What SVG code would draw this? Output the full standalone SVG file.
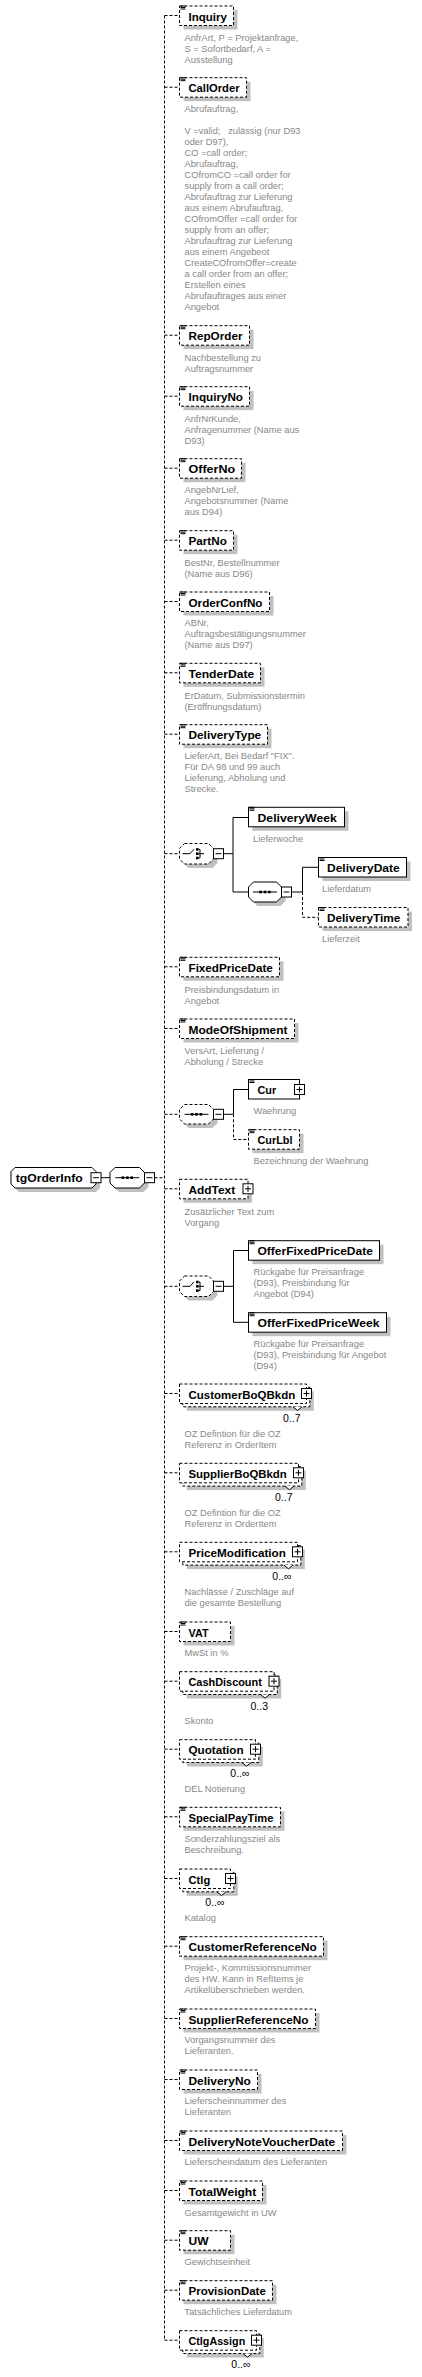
<svg xmlns="http://www.w3.org/2000/svg" xmlns:xlink="http://www.w3.org/1999/xlink" width="422" height="2377" viewBox="0 0 422 2377">
<style>
.sh{fill:#c0c0c0}
.b{fill:#fff;stroke:#000;stroke-width:1}
.o{stroke-dasharray:3 2}
.l{fill:none;stroke:#000;stroke-width:1}
.n{font-family:"Liberation Sans",Arial,sans-serif;font-weight:bold;font-size:11.7px;fill:#000}
.d{font-family:"Liberation Sans",Arial,sans-serif;font-size:9.3px;fill:#888}
.c{font-family:"Liberation Sans",Arial,sans-serif;font-size:10.5px;fill:#000}
</style>
<defs>
<g id="ic" class="l" stroke-width="0.9"><path d="M0 0.5H5M0 2H5M0 3.5H5"/></g>
<g id="minus"><rect class="b" x="0" y="0" width="10" height="10"/><path class="l" d="M2 5H8"/></g>
<g id="plus"><rect class="b" x="0" y="0" width="10" height="10"/><path class="l" d="M2 5H8M5 2V8"/></g>
<g id="chc"><path class="l" d="M-14 0H-6.5L-2.5 -4.5"/><path class="l" d="M2 -4.3H3.5V4.3H2M2 0H7.5"/><rect x="-0.5" y="-5.6" width="2.6" height="2.6"/><rect x="-0.5" y="-1.3" width="2.6" height="2.6"/><rect x="-0.5" y="3" width="2.6" height="2.6"/></g>
<g id="sq"><path class="l" d="M-12 0H12"/><rect x="-5.7" y="-1.3" width="2.6" height="2.6"/><rect x="-1.3" y="-1.3" width="2.6" height="2.6"/><rect x="3.1" y="-1.3" width="2.6" height="2.6"/></g>
</defs>

<g id="connectors">
<path class="l o" d="M164.5 15.5V2340.2"/>
<path class="l o" d="M164.5 15.5H179.5M164.5 87.2H179.5M164.5 335.2H179.5M164.5 396.2H179.5M164.5 468.2H179.5M164.5 540.2H179.5M164.5 601.5H179.5M164.5 672.8H179.5M164.5 734.2H179.5M164.5 853.7H179.5M164.5 966.8H179.5M164.5 1028.5H179.5M164.5 1114.3H179.5M164.5 1188.8H179.5M164.5 1286.3H179.5M164.5 1393.5H179.5M164.5 1472.8H179.5M164.5 1551.8H179.5M164.5 1631.5H179.5M164.5 1681.2H179.5M164.5 1749.2H179.5M164.5 1816.8H179.5M164.5 1878.5H179.5M164.5 1946.2H179.5M164.5 2018.5H179.5M164.5 2079.5H179.5M164.5 2140.5H179.5M164.5 2190.5H179.5M164.5 2240.2H179.5M164.5 2290.2H179.5M164.5 2340.2H179.5"/>
<path class="l o" d="M154.5 1177.7H164.5"/>
<path class="l" d="M101 1177.7H110"/>
<path class="l" d="M223.5 853.7H233M233 817.5V892M233 817.5H248.5M233 892H248.5"/>
<path class="l" d="M291.5 892H302.5M302.5 867.3V892M302.5 867.3H318.5"/>
<path class="l o" d="M302.5 892V917.3H318.5"/>
<path class="l" d="M223.5 1114.3H233.5M233.5 1089.5V1114.3M233.5 1089.5H248.5"/>
<path class="l o" d="M233.5 1114.3V1139.5H248.5"/>
<path class="l" d="M223.5 1286.3H233.5M233.5 1250.5V1322.3M233.5 1250.5H248.5M233.5 1322.3H248.5"/>
</g>

<g id="n-tgOrderInfo">
<path class="sh" transform="translate(4,4)" d="M15 1167.5H92L96 1171.5V1184L92 1188H15L11 1184V1171.5Z"/>
<path class="b" d="M15 1167.5H92L96 1171.5V1184L92 1188H15L11 1184V1171.5Z"/>
<text class="n" x="15.7" y="1182" textLength="67" lengthAdjust="spacingAndGlyphs">tgOrderInfo</text>
<use href="#minus" x="91" y="1172.7"/>
</g>
<g id="n-sequence-root">
<path class="sh" transform="translate(4,4)" d="M115 1167.5H139.5L144.5 1172.5V1183L139.5 1188H115L110 1183V1172.5Z"/>
<path class="b" d="M115 1167.5H139.5L144.5 1172.5V1183L139.5 1188H115L110 1183V1172.5Z"/>
<use href="#sq" x="127.3" y="1177.7"/>
<use href="#minus" x="144.5" y="1172.7"/>
</g>

<g id="n-Inquiry"><rect class="sh" x="183.5" y="10" width="54" height="19.5"/><rect class="b o" x="179.5" y="6" width="54" height="19.5"/><use href="#ic" x="180.5" y="5.5"/><text class="n" x="188.5" y="20.5" textLength="38.3" lengthAdjust="spacingAndGlyphs">Inquiry</text><text class="d" x="184.5" y="40.7">AnfrArt, P = Projektanfrage,<tspan x="184.5" dy="11">S = Sofortbedarf, A =</tspan><tspan x="184.5" dy="11">Ausstellung</tspan></text></g>

<g id="n-CallOrder"><rect class="sh" x="183.5" y="81.7" width="67" height="19.5"/><rect class="b o" x="179.5" y="77.7" width="67" height="19.5"/><use href="#ic" x="180.5" y="77.2"/><text class="n" x="188.5" y="92.2" textLength="51" lengthAdjust="spacingAndGlyphs">CallOrder</text><text class="d" x="184.5" y="112.3">Abrufauftrag,<tspan x="184.5" dy="22" style="white-space:pre">V =valid;   zulässig (nur D93</tspan><tspan x="184.5" dy="11">oder D97),</tspan><tspan x="184.5" dy="11">CO =call order;</tspan><tspan x="184.5" dy="11">Abrufauftrag,</tspan><tspan x="184.5" dy="11">COfromCO =call order for</tspan><tspan x="184.5" dy="11">supply from a call order;</tspan><tspan x="184.5" dy="11">Abrufauftrag zur Lieferung</tspan><tspan x="184.5" dy="11">aus einem Abrufauftrag,</tspan><tspan x="184.5" dy="11">COfromOffer =call order for</tspan><tspan x="184.5" dy="11">supply from an offer;</tspan><tspan x="184.5" dy="11">Abrufauftrag zur Lieferung</tspan><tspan x="184.5" dy="11">aus einem Angebeot</tspan><tspan x="184.5" dy="11">CreateCOfromOffer=create</tspan><tspan x="184.5" dy="11">a call order from an offer;</tspan><tspan x="184.5" dy="11">Erstellen eines</tspan><tspan x="184.5" dy="11">Abrufauftrages aus einer</tspan><tspan x="184.5" dy="11">Angebot</tspan></text></g>

<g id="n-RepOrder"><rect class="sh" x="183.5" y="329.7" width="70" height="19.5"/><rect class="b o" x="179.5" y="325.7" width="70" height="19.5"/><use href="#ic" x="180.5" y="325.2"/><text class="n" x="188.5" y="340.2" textLength="54" lengthAdjust="spacingAndGlyphs">RepOrder</text><text class="d" x="184.5" y="360.7">Nachbestellung zu<tspan x="184.5" dy="11">Auftragsnummer</tspan></text></g>

<g id="n-InquiryNo"><rect class="sh" x="183.5" y="390.7" width="70" height="19.5"/><rect class="b o" x="179.5" y="386.7" width="70" height="19.5"/><use href="#ic" x="180.5" y="386.2"/><text class="n" x="188.5" y="401.2" textLength="54.5" lengthAdjust="spacingAndGlyphs">InquiryNo</text><text class="d" x="184.5" y="421.7">AnfrNrKunde,<tspan x="184.5" dy="11">Anfragenummer (Name aus</tspan><tspan x="184.5" dy="11">D93)</tspan></text></g>

<g id="n-OfferNo"><rect class="sh" x="183.5" y="462.7" width="62" height="19.5"/><rect class="b o" x="179.5" y="458.7" width="62" height="19.5"/><use href="#ic" x="180.5" y="458.2"/><text class="n" x="188.5" y="473.2" textLength="46.7" lengthAdjust="spacingAndGlyphs">OfferNo</text><text class="d" x="184.5" y="493.3">AngebNrLief,<tspan x="184.5" dy="11">Angebotsnummer (Name</tspan><tspan x="184.5" dy="11">aus D94)</tspan></text></g>

<g id="n-PartNo"><rect class="sh" x="183.5" y="534.7" width="54" height="19.5"/><rect class="b o" x="179.5" y="530.7" width="54" height="19.5"/><use href="#ic" x="180.5" y="530.2"/><text class="n" x="188.5" y="545.2" textLength="38.3" lengthAdjust="spacingAndGlyphs">PartNo</text><text class="d" x="184.5" y="565.7">BestNr, Bestellnummer<tspan x="184.5" dy="11">(Name aus D96)</tspan></text></g>

<g id="n-OrderConfNo"><rect class="sh" x="183.5" y="596" width="90" height="19.5"/><rect class="b o" x="179.5" y="592" width="90" height="19.5"/><use href="#ic" x="180.5" y="591.5"/><text class="n" x="188.5" y="606.5" textLength="74" lengthAdjust="spacingAndGlyphs">OrderConfNo</text><text class="d" x="184.5" y="626.3">ABNr,<tspan x="184.5" dy="11">Auftragsbestätigungsnummer</tspan><tspan x="184.5" dy="11">(Name aus D97)</tspan></text></g>

<g id="n-TenderDate"><rect class="sh" x="183.5" y="667.3" width="81" height="19.5"/><rect class="b o" x="179.5" y="663.3" width="81" height="19.5"/><use href="#ic" x="180.5" y="662.8"/><text class="n" x="188.5" y="677.8" textLength="65.7" lengthAdjust="spacingAndGlyphs">TenderDate</text><text class="d" x="184.5" y="698.7">ErDatum, Submissionstermin<tspan x="184.5" dy="11">(Eröffnungsdatum)</tspan></text></g>

<g id="n-DeliveryType"><rect class="sh" x="183.5" y="728.7" width="88" height="19.5"/><rect class="b o" x="179.5" y="724.7" width="88" height="19.5"/><use href="#ic" x="180.5" y="724.2"/><text class="n" x="188.5" y="739.2" textLength="72.7" lengthAdjust="spacingAndGlyphs">DeliveryType</text><text class="d" x="184.5" y="759.3">LieferArt, Bei Bedarf "FIX".<tspan x="184.5" dy="11">Für DA 98 und 99 auch</tspan><tspan x="184.5" dy="11">Lieferung, Abholung und</tspan><tspan x="184.5" dy="11">Strecke.</tspan></text></g>

<g id="n-choice-1">
<path class="sh" transform="translate(4,4)" d="M184.5 843.5H208.5L213.5 848.5V859L208.5 864H184.5L179.5 859V848.5Z"/>
<path class="b o" d="M184.5 843.5H208.5L213.5 848.5V859L208.5 864H184.5L179.5 859V848.5Z"/>
<use href="#chc" x="196.5" y="853.7"/>
<use href="#minus" x="213.5" y="848.7"/>
</g>

<g id="n-DeliveryWeek"><rect class="sh" x="252.5" y="811.3" width="96" height="19.5"/><rect class="b" x="248.5" y="807.3" width="96" height="19.5"/><use href="#ic" x="249.5" y="806.8"/><text class="n" x="257.5" y="821.8" textLength="79.3" lengthAdjust="spacingAndGlyphs">DeliveryWeek</text><text class="d" x="253" y="842.3">Lieferwoche</text></g>

<g id="n-sequence-1">
<path class="sh" transform="translate(4,4)" d="M253.5 882H276.5L281.5 887V897L276.5 902H253.5L248.5 897V887Z"/>
<path class="b" d="M253.5 882H276.5L281.5 887V897L276.5 902H253.5L248.5 897V887Z"/>
<use href="#sq" x="265" y="892"/>
<use href="#minus" x="281.5" y="887"/>
</g>

<g id="n-DeliveryDate"><rect class="sh" x="322.5" y="861.5" width="88" height="19.5"/><rect class="b" x="318.5" y="857.5" width="88" height="19.5"/><use href="#ic" x="319.5" y="857"/><text class="n" x="327" y="872" textLength="72.7" lengthAdjust="spacingAndGlyphs">DeliveryDate</text><text class="d" x="322" y="892.3">Lieferdatum</text></g>

<g id="n-DeliveryTime"><rect class="sh" x="322.5" y="911.5" width="89.5" height="19.5"/><rect class="b o" x="318.5" y="907.5" width="89.5" height="19.5"/><use href="#ic" x="319.5" y="907"/><text class="n" x="327" y="922" textLength="73.3" lengthAdjust="spacingAndGlyphs">DeliveryTime</text><text class="d" x="322" y="942.3">Lieferzeit</text></g>

<g id="n-FixedPriceDate"><rect class="sh" x="183.5" y="961.3" width="100" height="19.5"/><rect class="b o" x="179.5" y="957.3" width="100" height="19.5"/><use href="#ic" x="180.5" y="956.8"/><text class="n" x="188.5" y="971.8" textLength="84.3" lengthAdjust="spacingAndGlyphs">FixedPriceDate</text><text class="d" x="184.5" y="993.3">Preisbindungsdatum in<tspan x="184.5" dy="11">Angebot</tspan></text></g>

<g id="n-ModeOfShipment"><rect class="sh" x="183.5" y="1023" width="115" height="19.5"/><rect class="b o" x="179.5" y="1019" width="115" height="19.5"/><use href="#ic" x="180.5" y="1018.5"/><text class="n" x="188.5" y="1033.5" textLength="99" lengthAdjust="spacingAndGlyphs">ModeOfShipment</text><text class="d" x="184.5" y="1054">VersArt, Lieferung /<tspan x="184.5" dy="11">Abholung / Strecke</tspan></text></g>

<g id="n-sequence-2">
<path class="sh" transform="translate(4,4)" d="M184.5 1104.5H208.5L213.5 1109.5V1119L208.5 1124H184.5L179.5 1119V1109.5Z"/>
<path class="b o" d="M184.5 1104.5H208.5L213.5 1109.5V1119L208.5 1124H184.5L179.5 1119V1109.5Z"/>
<use href="#sq" x="196.5" y="1114.3"/>
<use href="#minus" x="213.5" y="1109.3"/>
</g>

<g id="n-Cur"><rect class="b" x="248.5" y="1079.5" width="51" height="19.5"/><use href="#ic" x="249.5" y="1079"/><text class="n" x="257.5" y="1094" textLength="18.7" lengthAdjust="spacingAndGlyphs">Cur</text><use href="#plus" x="294.5" y="1084.5"/><text class="d" x="253.5" y="1114">Waehrung</text></g>

<g id="n-CurLbl"><rect class="sh" x="252.5" y="1133.7" width="51" height="19.5"/><rect class="b o" x="248.5" y="1129.7" width="51" height="19.5"/><use href="#ic" x="249.5" y="1129.2"/><text class="n" x="257.5" y="1144.2" textLength="35" lengthAdjust="spacingAndGlyphs">CurLbl</text><text class="d" x="253.5" y="1164.3">Bezeichnung der Waehrung</text></g>

<g id="n-AddText"><rect class="sh" x="183.5" y="1183.3" width="68.5" height="19.5"/><rect class="b o" x="179.5" y="1179.3" width="68.5" height="19.5"/><text class="n" x="188.5" y="1193.8" textLength="46.7" lengthAdjust="spacingAndGlyphs">AddText</text><use href="#plus" x="243" y="1183.8"/><text class="d" x="184.5" y="1214.7">Zusätzlicher Text zum<tspan x="184.5" dy="11">Vorgang</tspan></text></g>

<g id="n-choice-2">
<path class="sh" transform="translate(4,4)" d="M184.5 1276H208.5L213.5 1281V1291.5L208.5 1296.5H184.5L179.5 1291.5V1281Z"/>
<path class="b o" d="M184.5 1276H208.5L213.5 1281V1291.5L208.5 1296.5H184.5L179.5 1291.5V1281Z"/>
<use href="#chc" x="196.5" y="1286.3"/>
<use href="#minus" x="213.5" y="1281.3"/>
</g>

<g id="n-OfferFixedPriceDate"><rect class="sh" x="252.5" y="1244.7" width="131" height="19.5"/><rect class="b" x="248.5" y="1240.7" width="131" height="19.5"/><use href="#ic" x="249.5" y="1240.2"/><text class="n" x="257.5" y="1255.2" textLength="115.3" lengthAdjust="spacingAndGlyphs">OfferFixedPriceDate</text><text class="d" x="253.5" y="1275.3">Rückgabe für Preisanfrage<tspan x="253.5" dy="11">(D93), Preisbindung für</tspan><tspan x="253.5" dy="11">Angebot (D94)</tspan></text></g>

<g id="n-OfferFixedPriceWeek"><rect class="sh" x="252.5" y="1316.7" width="138" height="19.5"/><rect class="b" x="248.5" y="1312.7" width="138" height="19.5"/><use href="#ic" x="249.5" y="1312.2"/><text class="n" x="257.5" y="1327.2" textLength="122" lengthAdjust="spacingAndGlyphs">OfferFixedPriceWeek</text><text class="d" x="253.5" y="1347.3">Rückgabe für Preisanfrage<tspan x="253.5" dy="11">(D93), Preisbindung für Angebot</tspan><tspan x="253.5" dy="11">(D94)</tspan></text></g>

<g id="n-CustomerBoQBkdn"><rect class="sh" x="186.8" y="1391.3" width="127" height="19.5"/><rect class="b o" x="182.8" y="1387.3" width="127" height="19.5"/><rect class="b o" x="179.5" y="1384" width="127" height="19.5"/><text class="n" x="188.5" y="1398.5" textLength="106.7" lengthAdjust="spacingAndGlyphs">CustomerBoQBkdn</text><use href="#plus" x="301.5" y="1388.5"/><path class="b" d="M293 1406.8L297.5 1410.5L302 1406.8"/><text class="c" x="300.5" y="1421.5" text-anchor="end">0..7</text><text class="d" x="184.5" y="1437.3">OZ Defintion für die OZ<tspan x="184.5" dy="11">Referenz in OrderItem</tspan></text></g>

<g id="n-SupplierBoQBkdn"><rect class="sh" x="186.8" y="1470.6" width="119" height="19.5"/><rect class="b o" x="182.8" y="1466.6" width="119" height="19.5"/><rect class="b o" x="179.5" y="1463.3" width="119" height="19.5"/><text class="n" x="188.5" y="1477.8" textLength="98.3" lengthAdjust="spacingAndGlyphs">SupplierBoQBkdn</text><use href="#plus" x="293.5" y="1467.8"/><path class="b" d="M285 1486.1L289.5 1489.8L294 1486.1"/><text class="c" x="292.5" y="1500.8" text-anchor="end">0..7</text><text class="d" x="184.5" y="1516.3">OZ Defintion für die OZ<tspan x="184.5" dy="11">Referenz in OrderItem</tspan></text></g>

<g id="n-PriceModification"><rect class="sh" x="186.8" y="1549.6" width="118" height="19.5"/><rect class="b o" x="182.8" y="1545.6" width="118" height="19.5"/><rect class="b o" x="179.5" y="1542.3" width="118" height="19.5"/><text class="n" x="188.5" y="1556.8" textLength="97.3" lengthAdjust="spacingAndGlyphs">PriceModification</text><use href="#plus" x="292.5" y="1546.8"/><path class="b" d="M284 1565.1L288.5 1568.8L293 1565.1"/><text class="c" x="291.5" y="1579.8" text-anchor="end">0..∞</text><text class="d" x="184.5" y="1595.3">Nachlässe / Zuschläge auf<tspan x="184.5" dy="11">die gesamte Bestellung</tspan></text></g>

<g id="n-VAT"><rect class="sh" x="183.5" y="1626" width="51" height="19.5"/><rect class="b o" x="179.5" y="1622" width="51" height="19.5"/><use href="#ic" x="180.5" y="1621.5"/><text class="n" x="188.5" y="1636.5" textLength="20" lengthAdjust="spacingAndGlyphs">VAT</text><text class="d" x="184.5" y="1656">MwSt in %</text></g>

<g id="n-CashDiscount"><rect class="sh" x="186.8" y="1679" width="94.5" height="19.5"/><rect class="b o" x="182.8" y="1675" width="94.5" height="19.5"/><rect class="b o" x="179.5" y="1671.7" width="94.5" height="19.5"/><text class="n" x="188.5" y="1686.2" textLength="73.3" lengthAdjust="spacingAndGlyphs">CashDiscount</text><use href="#plus" x="269" y="1676.2"/><path class="b" d="M260.5 1694.5L265 1698.2L269.5 1694.5"/><text class="c" x="268" y="1709.5" text-anchor="end">0..3</text><text class="d" x="184.5" y="1724.3">Skonto</text></g>

<g id="n-Quotation"><rect class="sh" x="186.8" y="1747" width="76" height="19.5"/><rect class="b o" x="182.8" y="1743" width="76" height="19.5"/><rect class="b o" x="179.5" y="1739.7" width="76" height="19.5"/><text class="n" x="188.5" y="1754.2" textLength="55" lengthAdjust="spacingAndGlyphs">Quotation</text><use href="#plus" x="250.5" y="1744.2"/><path class="b" d="M242 1762.5L246.5 1766.2L251 1762.5"/><text class="c" x="249.5" y="1777.3" text-anchor="end">0..∞</text><text class="d" x="184.5" y="1792.3">DEL Notierung</text></g>

<g id="n-SpecialPayTime"><rect class="sh" x="183.5" y="1811.3" width="101" height="19.5"/><rect class="b o" x="179.5" y="1807.3" width="101" height="19.5"/><use href="#ic" x="180.5" y="1806.8"/><text class="n" x="188.5" y="1821.8" textLength="85" lengthAdjust="spacingAndGlyphs">SpecialPayTime</text><text class="d" x="184.5" y="1842.3">Sonderzahlungsziel als<tspan x="184.5" dy="11">Beschreibung.</tspan></text></g>

<g id="n-Ctlg"><rect class="sh" x="186.8" y="1876.3" width="51" height="19.5"/><rect class="b o" x="182.8" y="1872.3" width="51" height="19.5"/><rect class="b o" x="179.5" y="1869" width="51" height="19.5"/><text class="n" x="188.5" y="1883.5" textLength="21.7" lengthAdjust="spacingAndGlyphs">Ctlg</text><use href="#plus" x="225.5" y="1873.5"/><path class="b" d="M217 1891.8L221.5 1895.5L226 1891.8"/><text class="c" x="224.5" y="1906" text-anchor="end">0..∞</text><text class="d" x="184.5" y="1920.7">Katalog</text></g>

<g id="n-CustomerReferenceNo"><rect class="sh" x="183.5" y="1940.7" width="144" height="19.5"/><rect class="b o" x="179.5" y="1936.7" width="144" height="19.5"/><use href="#ic" x="180.5" y="1936.2"/><text class="n" x="188.5" y="1951.2" textLength="128.3" lengthAdjust="spacingAndGlyphs">CustomerReferenceNo</text><text class="d" x="184.5" y="1971.3">Projekt-, Kommissionsnummer<tspan x="184.5" dy="11">des HW. Kann in RefItems je</tspan><tspan x="184.5" dy="11">Artikelüberschrieben werden.</tspan></text></g>

<g id="n-SupplierReferenceNo"><rect class="sh" x="183.5" y="2013" width="136" height="19.5"/><rect class="b o" x="179.5" y="2009" width="136" height="19.5"/><use href="#ic" x="180.5" y="2008.5"/><text class="n" x="188.5" y="2023.5" textLength="120" lengthAdjust="spacingAndGlyphs">SupplierReferenceNo</text><text class="d" x="184.5" y="2043.3">Vorgangsnummer des<tspan x="184.5" dy="11">Lieferanten.</tspan></text></g>

<g id="n-DeliveryNo"><rect class="sh" x="183.5" y="2074" width="78" height="19.5"/><rect class="b o" x="179.5" y="2070" width="78" height="19.5"/><use href="#ic" x="180.5" y="2069.5"/><text class="n" x="188.5" y="2084.5" textLength="62.3" lengthAdjust="spacingAndGlyphs">DeliveryNo</text><text class="d" x="184.5" y="2104.3">Lieferscheinnummer des<tspan x="184.5" dy="11">Lieferanten</tspan></text></g>

<g id="n-DeliveryNoteVoucherDate"><rect class="sh" x="183.5" y="2135" width="163" height="19.5"/><rect class="b o" x="179.5" y="2131" width="163" height="19.5"/><use href="#ic" x="180.5" y="2130.5"/><text class="n" x="188.5" y="2145.5" textLength="146.7" lengthAdjust="spacingAndGlyphs">DeliveryNoteVoucherDate</text><text class="d" x="184.5" y="2165.3">Lieferscheindatum des Lieferanten</text></g>

<g id="n-TotalWeight"><rect class="sh" x="183.5" y="2185" width="83" height="19.5"/><rect class="b o" x="179.5" y="2181" width="83" height="19.5"/><use href="#ic" x="180.5" y="2180.5"/><text class="n" x="188.5" y="2195.5" textLength="67.7" lengthAdjust="spacingAndGlyphs">TotalWeight</text><text class="d" x="184.5" y="2215.7">Gesamtgewicht in UW</text></g>

<g id="n-UW"><rect class="sh" x="183.5" y="2234.7" width="51" height="19.5"/><rect class="b o" x="179.5" y="2230.7" width="51" height="19.5"/><use href="#ic" x="180.5" y="2230.2"/><text class="n" x="188.5" y="2245.2" textLength="20" lengthAdjust="spacingAndGlyphs">UW</text><text class="d" x="184.5" y="2265">Gewichtseinheit</text></g>

<g id="n-ProvisionDate"><rect class="sh" x="183.5" y="2284.7" width="93" height="19.5"/><rect class="b o" x="179.5" y="2280.7" width="93" height="19.5"/><use href="#ic" x="180.5" y="2280.2"/><text class="n" x="188.5" y="2295.2" textLength="77.3" lengthAdjust="spacingAndGlyphs">ProvisionDate</text><text class="d" x="184.5" y="2315">Tatsächliches Lieferdatum</text></g>

<g id="n-CtlgAssign"><rect class="sh" x="186.8" y="2338" width="77" height="19.5"/><rect class="b o" x="182.8" y="2334" width="77" height="19.5"/><rect class="b o" x="179.5" y="2330.7" width="77" height="19.5"/><text class="n" x="188.5" y="2345.2" textLength="56.7" lengthAdjust="spacingAndGlyphs">CtlgAssign</text><use href="#plus" x="251.5" y="2335.2"/><path class="b" d="M243 2353.5L247.5 2357.2L252 2353.5"/><text class="c" x="250.5" y="2367.7" text-anchor="end">0..∞</text></g>
</svg>
